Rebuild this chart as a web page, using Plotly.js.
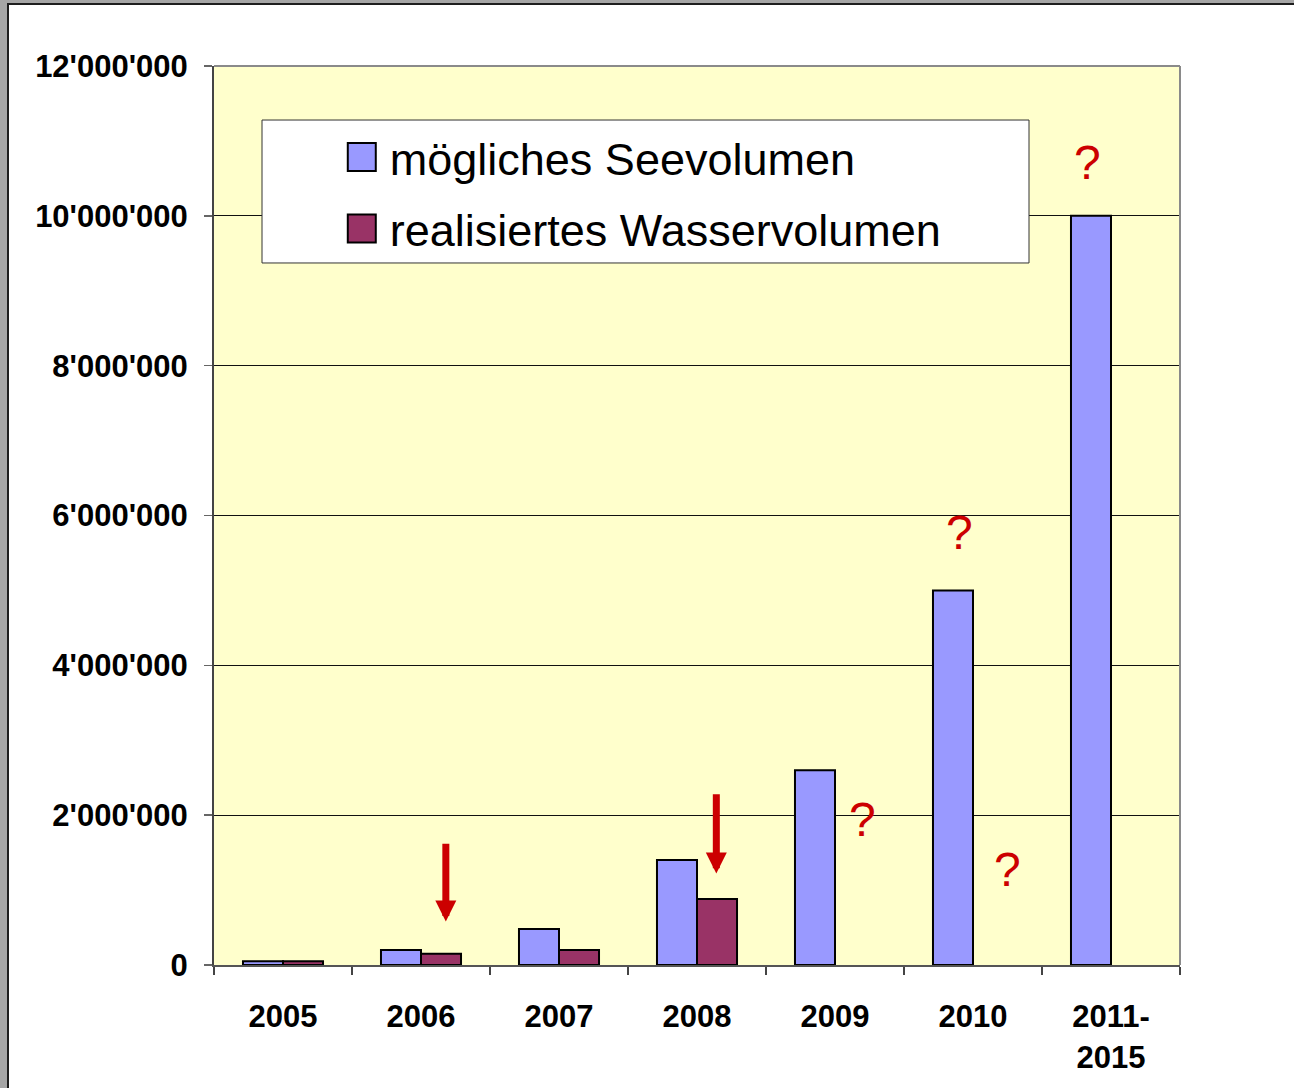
<!DOCTYPE html>
<html>
<head>
<meta charset="utf-8">
<script src="https://cdn.plot.ly/plotly-3.0.1.min.js"></script>
<style>
  html, body { margin: 0; padding: 0; background: #a6a6a6; width: 1294px; height: 1088px; overflow: hidden; }
  #frame { position: absolute; left: 7px; top: 3px; width: 1300px; height: 1100px; background: #1e1e1e; }
  #chart { position: absolute; left: 9px; top: 5px; width: 1285px; height: 1083px; background: #ffffff; }
</style>
</head>
<body>
<div id="frame"></div>
<div id="chart"></div>
<script>
// ---- data ----
const categories = ['2005', '2006', '2007', '2008', '2009', '2010', '2011-<br>2015'];
const seevolumen = [50000, 200000, 480000, 1400000, 2600000, 5000000, 10000000];
const wasservolumen = [50000, 150000, 200000, 880000, null, null, null];
const seriesNames = ['mögliches Seevolumen', 'realisiertes Wasservolumen'];
const yTickVals = [0, 2000000, 4000000, 6000000, 8000000, 10000000, 12000000];

// question marks (category index offset, value)
const qmarkX = [4.20, 4.90, 5.25, 5.83];
const qmarkY = [1940000, 5770000, 1280000, 10710000];
// arrows (category index offset, tip value, tail value)
const arrowX = [1.18, 3.14];
const arrowTipY = [580000, 1220000];
const arrowTailY = [1640000, 2300000];

const traces = [
  { type: 'bar', x: categories, y: seevolumen, name: seriesNames[0], legendgroup: 'a',
    marker: { color: '#9999ff', line: { color: '#000000', width: 2 } }, hoverinfo: 'skip' },
  { type: 'bar', x: categories, y: wasservolumen, name: seriesNames[1], legendgroup: 'b',
    marker: { color: '#993366', line: { color: '#000000', width: 2 } }, hoverinfo: 'skip' }
];

const annotations = [];
qmarkX.forEach((x, i) => annotations.push({
  x: x, y: qmarkY[i], xref: 'x', yref: 'y', text: '?', showarrow: false,
  font: { family: 'Liberation Sans, Arial, sans-serif', size: 48, color: '#cc0000' }
}));
arrowX.forEach((x, i) => annotations.push({
  x: x, y: arrowTipY[i], xref: 'x', yref: 'y', ax: x, ay: arrowTailY[i], axref: 'x', ayref: 'y',
  text: '', showarrow: true, arrowhead: 2, arrowsize: 0.6, arrowwidth: 7, arrowcolor: '#cc0000'
}));

const layout = {
  width: 1285, height: 1083, autosize: false,
  margin: { l: 205, r: 114, t: 61, b: 123, pad: 0 },
  paper_bgcolor: '#ffffff', plot_bgcolor: '#ffffcc',
  separators: ".'",
  barmode: 'group', bargap: 0.42, bargroupgap: 0,
  font: { family: 'Liberation Sans, Arial, sans-serif', color: '#000000' },
  showlegend: true,
  legend: {
    x: 0.124, xanchor: 'left', y: 0.9385, yanchor: 'top',
    bgcolor: 'rgba(0,0,0,0)', borderwidth: 0,
    font: { size: 45, color: '#000000', family: 'Liberation Sans, Arial, sans-serif' },
    itemwidth: 46, tracegroupgap: 10, traceorder: 'grouped', itemclick: false
  },
  xaxis: {
    type: 'category', tickson: 'boundaries', ticks: 'outside', ticklen: 8, tickwidth: 1.5, tickcolor: '#444',
    showline: true, linecolor: '#555', linewidth: 2, showgrid: false, zeroline: false,
    tickfont: { size: 31, family: 'Liberation Sans, Arial, sans-serif', weight: 'bold', color: '#000' },
    ticklabelstandoff: 23, fixedrange: true
  },
  yaxis: {
    range: [0, 12000000], tickvals: yTickVals, tickformat: ',d',
    ticks: 'outside', ticklen: 8, tickwidth: 1.5, tickcolor: '#666',
    showline: true, linecolor: '#444', linewidth: 2,
    showgrid: true, gridcolor: '#111', gridwidth: 1, zeroline: false,
    tickfont: { size: 31, family: 'Liberation Sans, Arial, sans-serif', weight: 'bold', color: '#000' },
    ticklabelstandoff: 10, fixedrange: true
  },
  shapes: [
    { type: 'rect', xref: 'paper', yref: 'paper', x0: 0.0497, x1: 0.8437, y0: 0.7809, y1: 0.9399,
      fillcolor: '#ffffff', line: { color: '#333333', width: 1 }, layer: 'above' },
    { type: 'line', xref: 'paper', yref: 'paper', x0: 0, x1: 1, y0: 1, y1: 1,
      line: { color: '#8a8a8a', width: 2 }, layer: 'above' },
    { type: 'line', xref: 'paper', yref: 'paper', x0: 1, x1: 1, y0: 0, y1: 1,
      line: { color: '#8a8a8a', width: 2 }, layer: 'above' }
  ],
  annotations: annotations
};

Plotly.newPlot('chart', traces, layout, { displayModeBar: false, staticPlot: true }).then(gd => {
  gd.querySelectorAll('.legend .legendpoints path').forEach(p => {
    p.setAttribute('d', 'M14,14H-14V-14H14Z');
  });
});
</script>
</body>
</html>
